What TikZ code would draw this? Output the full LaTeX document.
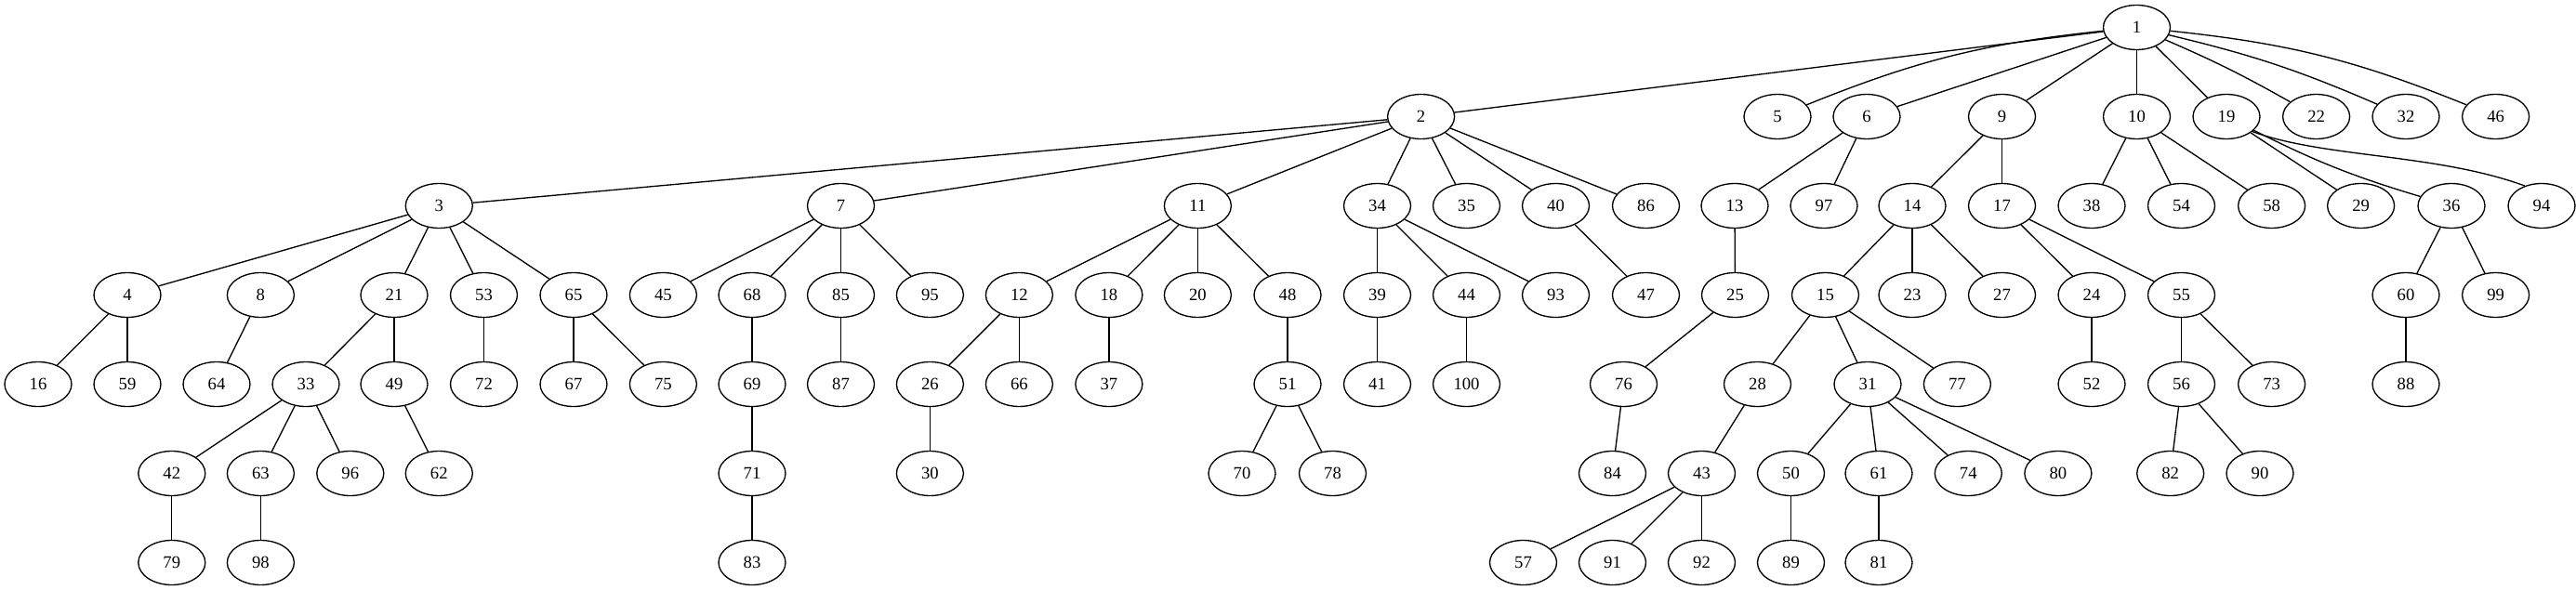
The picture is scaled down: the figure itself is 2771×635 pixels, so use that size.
\documentclass[tikz,border=0pt]{standalone}
\usepackage{fontspec}
\setmainfont{Liberation Serif}
\usetikzlibrary{shapes.geometric}
\begin{document}
\begin{tikzpicture}[x=0.75pt,y=-0.75pt,
  gv/.style={draw,ellipse,line width=1pt,minimum width=54pt,minimum height=36pt,inner sep=0pt,font=\fontsize{14pt}{16pt}\selectfont},
  edge/.style={line width=1pt}]
\useasboundingbox (0,0) rectangle (2771,635);
\foreach \n/\x/\r in {
 1/2298.5/0,
 2/1528.6/1, 5/1912/1, 6/2008/1, 9/2153.5/1, 10/2298.5/1, 19/2395/1, 22/2491.6/1, 32/2588/1, 46/2684.6/1,
 3/472.3/2, 7/904.5/2, 11/1288.4/2, 34/1481.5/2, 35/1577.5/2, 40/1673.5/2, 86/1770.5/2, 13/1866/2, 97/1962/2, 14/2057/2, 17/2153.5/2, 38/2250/2, 54/2346.5/2, 58/2443.6/2, 29/2539.6/2, 36/2637/2, 94/2734/2,
 4/137/3, 8/280.4/3, 21/424/3, 53/520.5/3, 65/617/3, 45/713.4/3, 68/809/3, 85/904.5/3, 95/1000.4/3, 12/1096.4/3, 18/1192.9/3, 20/1288.4/3, 48/1385/3, 39/1481.5/3, 44/1577.5/3, 93/1673.5/3, 47/1770.5/3, 25/1866.5/3, 15/1963.5/3, 23/2057/3, 27/2153.5/3, 24/2250/3, 55/2346.5/3, 60/2588/3, 99/2684.6/3,
 16/41/4, 59/137/4, 64/233/4, 33/329/4, 49/424/4, 72/520.5/4, 67/617/4, 75/713.4/4, 69/809/4, 87/904.5/4, 26/1000.4/4, 66/1096.4/4, 37/1192.9/4, 51/1385/4, 41/1481.5/4, 100/1577.5/4, 76/1746.5/4, 28/1890.5/4, 31/2009/4, 77/2105.4/4, 52/2250/4, 56/2346.5/4, 73/2443.6/4, 88/2588/4,
 42/184.8/5, 63/280.4/5, 96/376.8/5, 62/472.3/5, 71/809/5, 30/1000.4/5, 70/1336/5, 78/1433.5/5, 84/1734.5/5, 43/1830.5/5, 50/1926.5/5, 61/2021/5, 74/2117.3/5, 80/2213.9/5, 82/2334.7/5, 90/2431/5,
 79/184.8/6, 98/280.4/6, 83/809/6, 57/1638.5/6, 91/1734.5/6, 92/1830.5/6, 89/1926.5/6, 81/2021/6}
  \node[gv] (n\n) at ({\x},{29.5+96*\r}) {\n};
\foreach \a/\b in {
 1/2, 1/6, 1/9, 1/10, 1/19,
 2/3, 2/7, 2/11, 2/34, 2/35, 2/40, 2/86,
 3/4, 3/8, 3/21, 3/53, 3/65, 4/16, 4/59, 8/64, 21/33, 21/49, 33/42, 33/63, 33/96, 42/79, 63/98, 49/62, 53/72, 65/67, 65/75,
 7/45, 7/68, 7/85, 7/95, 68/69, 69/71, 71/83, 85/87,
 11/12, 11/18, 11/20, 11/48, 12/26, 12/66, 26/30, 18/37, 48/51, 51/70, 51/78,
 34/39, 34/44, 34/93, 39/41, 44/100, 40/47,
 6/13, 6/97, 13/25, 25/76, 76/84,
 9/14, 9/17, 14/15, 14/23, 14/27, 15/28, 15/31, 15/77, 28/43, 43/57, 43/91, 43/92,
 31/50, 31/61, 31/74, 31/80, 50/89, 61/81,
 17/24, 17/55, 24/52, 55/56, 55/73, 56/82, 56/90,
 10/38, 10/54, 10/58, 19/29, 36/60, 36/99, 60/88}
  \draw[edge] (n\a) -- (n\b);
\draw[edge] (n1) to[bend right=8] (n5);
\draw[edge] (n1) to[bend left=3] (n22);
\draw[edge] (n1) to[bend left=5] (n32);
\draw[edge] (n1) to[bend left=8] (n46);
\draw[edge] (n19) to[bend right=5] (n36);
\draw[edge] (n19.-30) .. controls (2500,170) and (2620,165) .. (n94.130);
\end{tikzpicture}
\end{document}
